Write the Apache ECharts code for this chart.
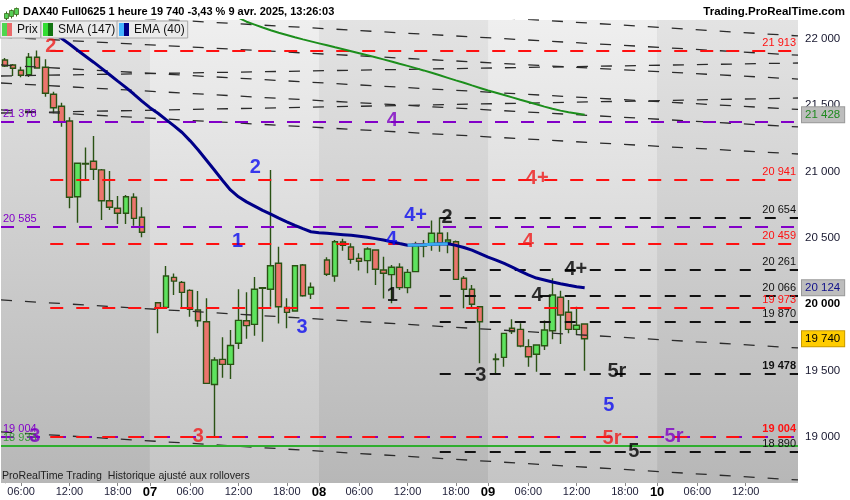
<!DOCTYPE html>
<html>
<head>
<meta charset="utf-8">
<title>DAX40 Full0625 1 heure</title>
<script src="https://cdn.jsdelivr.net/npm/echarts@6/dist/echarts.min.js"></script>
<style>
  html, body { margin: 0; padding: 0; background: #fff; }
  #main { width: 850px; height: 500px; }
</style>
</head>
<body>
<div id="main"></div>
<script>
// trading days on screen, hourly bars of each day (a blank slot marks each day change)
var days = ['04', '07', '08', '09', '10'];
var firstHour = [4, 2, 2, 2, 2];
var lastHour = [21, 21, 21, 21, 18];
var dayGap = [false, true, true, true, true];

// hourly candles [open, high, low, close]
var candles04 = [
  [21842, 21857, 21789, 21796], [21804, 21812, 21721, 21779], [21764, 21791, 21711, 21726],
  [21731, 21894, 21714, 21862], [21862, 21913, 21776, 21781], [21787, 21847, 21565, 21591],
  [21583, 21603, 21440, 21482], [21493, 21520, 21339, 21377], [21382, 21410, 20724, 20807],
  [20811, 21068, 20615, 21063], [21058, 21181, 20932, 21062], [21078, 21269, 20937, 21018],
  [21013, 21020, 20635, 20781], [20781, 21005, 20711, 20731], [20724, 20817, 20605, 20686],
  [20686, 20824, 20605, 20811], [20807, 20837, 20593, 20648], [20656, 20731, 20505, 20543]
];
var candles07 = [
  [20012, 20012, 19781, 19969], [19977, 20289, 19969, 20213], [20203, 20233, 20070, 20175],
  [20165, 20175, 19977, 20090], [20105, 20113, 19907, 19962], [19957, 20100, 19831, 19876],
  [19869, 20045, 19400, 19404], [19396, 19600, 19004, 19580], [19585, 19751, 19447, 19547],
  [19547, 19806, 19437, 19690], [19706, 20113, 19663, 19879], [19876, 20090, 19741, 19839],
  [19849, 20206, 19763, 20113], [20120, 20128, 19718, 20125], [20113, 21012, 19982, 20291],
  [20309, 20434, 19856, 19982], [19977, 20045, 19819, 19939], [19949, 20296, 19944, 20291],
  [20296, 20304, 20057, 20065], [20077, 20165, 20040, 20128]
];
var candles08 = [
  [20334, 20354, 20213, 20226], [20213, 20485, 20170, 20472], [20470, 20495, 20404, 20445],
  [20432, 20460, 20306, 20339], [20346, 20384, 20254, 20324], [20329, 20430, 20234, 20417],
  [20409, 20409, 20146, 20264], [20259, 20359, 20043, 20234], [20224, 20296, 20007, 20279],
  [20279, 20309, 20108, 20126], [20126, 20266, 20083, 20241], [20246, 20472, 20246, 20452],
  [20440, 20485, 20354, 20445], [20452, 20631, 20404, 20535], [20535, 20654, 20397, 20460],
  [20468, 20543, 20384, 20485], [20472, 20480, 20183, 20188], [20196, 20213, 19970, 20113],
  [20113, 20146, 19977, 20000], [19982, 19982, 19555, 19869]
];
var candles09 = [
  [19583, 19630, 19475, 19588], [19600, 19781, 19530, 19781], [19819, 19887, 19776, 19794],
  [19811, 19857, 19676, 19686], [19681, 19736, 19530, 19605], [19623, 19693, 19492, 19693],
  [19688, 19877, 19656, 19806], [19801, 20196, 19736, 20070], [20053, 20103, 19701, 19919],
  [19940, 20033, 19781, 19811], [19811, 19982, 19769, 19842], [19852, 19857, 19500, 19740]
];

// moving averages, one value per slot from the given slot on
var emaFrom = 5;
var ema40 = [
  22085, 22045, 22005, 21962, 21915, 21870, 21825, 21778, 21730, 21682, 21635, 21585, 21532,
  21482, 21440, 21392, 21345, 21295, 21232, 21163, 21088, 21012, 20935, 20862, 20810, 20772,
  20740, 20708, 20680, 20650, 20622, 20595, 20570, 20547, 20540, 20535, 20530, 20525, 20520,
  20513, 20505, 20495, 20485, 20472, 20458, 20445, 20447, 20449, 20452, 20455, 20456, 20444,
  20428, 20408, 20382, 20355, 20333, 20308, 20280, 20250, 20222, 20198, 20183, 20168, 20155,
  20143, 20132, 20124
];
var emaUpFrom = 50, emaUpTo = 55;
var smaFrom = 29;
var sma147 = [
  22160, 22130, 22108, 22086, 22066, 22047, 22030, 22013, 21997, 21982, 21967, 21952, 21937,
  21923, 21908, 21893, 21878, 21862, 21846, 21830, 21813, 21797, 21780, 21763, 21745, 21726,
  21707, 21688, 21670, 21650, 21631, 21612, 21595, 21578, 21560, 21542, 21525, 21508, 21490,
  21474, 21460, 21448, 21438, 21428
];

// horizontal levels
var redLevels = [21913, 20941, 20459, 19973, 19004];
var redFrom = 4;
var purpleLevels = [21378, 20585, 19004];
var blackLevels = [20654, 20261, 20066, 19870, 19478, 18890];
var blackFrom = 54;
var boldLevels = [19478, 19004];
var greenLevel = 18933;

// dashed channel lines: price at left edge, price at right edge
var channelLeft = [22215, 22392, 22015, 21721, 21804, 21442, 21465, 21668, 20033, 19038];
var channelRight = [21878, 22023, 21698, 21819, 21469, 21555, 21133, 21337, 19671, 18676];

// wave counts [slot, price, text]
var redWaves = [[5.7, 21947, '2'], [24, 19000, '3'], [66.1, 20952, '4+'], [65, 20470, '4'], [75.4, 18992, '5r']];
var blueWaves = [[31.1, 21028, '2'], [28.9, 20470, '1'], [36.9, 19829, '3'], [51, 20666, '4+'], [48, 20485, '4'], [75, 19234, '5']];
var purpleWaves = [[48.1, 21389, '4'], [3.7, 19000, '3'], [83.1, 19007, '5r']];
var blackWaves = [[54.9, 20658, '2'], [48.1, 20063, '1'], [70.9, 20259, '4+'], [66.1, 20070, '4'], [59.1, 19460, '3'], [76, 19497, '5r'], [78.1, 18887, '5']];

var yTicks = [19000, 19500, 20000, 20500, 21000, 21500, 22000];
var yMin = 18653, yMax = 22143;
var lastPrice = 19740, lastSma = 21428, lastEma = 20124;

var FONT = "'Liberation Sans', Arial, sans-serif";

function fmt(v) { return String(v).replace(/\B(?=(\d{3})+(?!\d))/g, ' '); }

// build the slots
var categories = [], candleData = [], dayStarts = [];
var dayCandles = [candles04, candles07, candles08, candles09, []];
days.forEach(function (d, k) {
  if (dayGap[k]) {
    dayStarts.push(categories.length);
    categories.push(d);
    candleData.push(['-', '-', '-', '-']);
  }
  for (var h = firstHour[k]; h <= lastHour[k]; h++) {
    categories.push(d + ' ' + (h < 10 ? '0' + h : h) + ':00');
    var c = dayCandles[k][h - firstHour[k]];
    candleData.push(c ? [c[0], c[3], c[2], c[1]] : ['-', '-', '-', '-']);
  }
});
var xMin = -0.5, xMax = categories.length - 0.5;

function labelSlot(i, v) {
  if (i === categories.length - 1) return false;
  return v.length === 2 || ['06:00', '12:00', '18:00'].indexOf(v.slice(3)) >= 0;
}

// day bands
var bandEdges = [xMin].concat(dayStarts, [xMax]);
var darkBand = { type: 'linear', x: 0, y: 0, x2: 0, y2: 1, colorStops: [{ offset: 0, color: '#e3e3e3' }, { offset: 1, color: '#b7b7b7' }] };
var lightBand = { type: 'linear', x: 0, y: 0, x2: 0, y2: 1, colorStops: [{ offset: 0, color: '#efefef' }, { offset: 1, color: '#c5c5c5' }] };
var bands = [];
for (var b = 0; b < bandEdges.length - 1; b++) {
  bands.push([{ xAxis: bandEdges[b], itemStyle: { color: b % 2 ? lightBand : darkBand } }, { xAxis: bandEdges[b + 1] }]);
}

function levelLine(v, from, color, dash, pos, offset) {
  var style = { color: color, width: 2, type: dash, dashOffset: offset || 0 };
  var label = {
    show: true, position: pos, formatter: fmt(v), color: color, distance: 2,
    fontSize: 11, fontFamily: FONT, fontWeight: boldLevels.indexOf(v) >= 0 && pos === 'insideEndTop' ? 'bold' : 'normal'
  };
  return [{ coord: [from, v], lineStyle: style, label: label }, { coord: [xMax, v], lineStyle: style, label: label }];
}

var levelLines = [];
purpleLevels.forEach(function (v) { levelLines.push(levelLine(v, xMin, '#8200c8', [13, 13], 'insideStartTop')); });
redLevels.forEach(function (v) { levelLines.push(levelLine(v, redFrom, '#ff1010', [13, 13], 'insideEndTop', 13)); });
blackLevels.forEach(function (v) { levelLines.push(levelLine(v, blackFrom, '#111111', [11, 14], 'insideEndTop')); });
(function () {
  var g = levelLine(greenLevel, xMin, '#2fae2f', 'solid', 'insideStartTop');
  g[0].label.color = g[1].label.color = '#3a9a3a';
  levelLines.push(g);
})();

function badge(v, color, bg, border) {
  return {
    yAxis: v,
    lineStyle: { color: 'rgba(0,0,0,0)', width: 0 },
    label: {
      show: true, position: 'end', distance: 4, formatter: fmt(v), color: color,
      backgroundColor: bg, borderColor: border, borderWidth: 1, padding: [2, 4, 1, 3],
      fontSize: 11.5, fontFamily: FONT
    }
  };
}

function waveSeries(list, color) {
  return {
    type: 'scatter', xAxisIndex: 1, z: 8, silent: true, symbolSize: 1,
    itemStyle: { color: 'rgba(0,0,0,0)' },
    data: list.map(function (w) { return [w[0], w[1], w[2]]; }),
    label: {
      show: true, position: 'inside', color: color, fontSize: 20, fontWeight: 'bold', fontFamily: FONT,
      formatter: function (p) { return p.value[2]; }
    },
    animation: false
  };
}

var chart = echarts.init(document.getElementById('main'));

var series = [
  {
    name: 'bands', type: 'line', xAxisIndex: 1, z: 0, silent: true, symbol: 'none',
    data: [[xMin, yMin]], lineStyle: { opacity: 0 },
    markArea: { silent: true, data: bands }
  },
  {
    name: 'Prix', type: 'candlestick', z: 2, barWidth: 6,
    data: candleData,
    itemStyle: {
      color: '#5ee35e', color0: '#ec756d',
      borderColor: '#2a5214', borderColor0: '#2a5214', borderWidth: 1.4
    }
  }
];

channelLeft.forEach(function (p, i) {
  series.push({
    type: 'line', xAxisIndex: 1, z: 3, silent: true, symbol: 'none', animation: false,
    data: [[xMin, p], [xMax, channelRight[i]]],
    lineStyle: { color: '#2b2b2b', width: 1.3, type: [11, 13] }
  });
});

series.push({
  name: 'levels', type: 'line', xAxisIndex: 1, z: 4, silent: true, symbol: 'none',
  data: [[xMin, yMin]], lineStyle: { opacity: 0 },
  markLine: {
    silent: true, symbol: ['none', 'none'], animation: false,
    data: levelLines.concat([
      badge(lastSma, '#1f8a1f', '#bdbdbd', '#9a9a9a'),
      badge(lastEma, '#10108a', '#bdbdbd', '#9a9a9a'),
      badge(lastPrice, '#000', '#ffcc00', '#c89a00')
    ])
  }
});

series.push({
  name: 'SMA (147)', type: 'line', xAxisIndex: 1, z: 5, symbol: 'none', silent: true,
  data: sma147.map(function (v, i) { return [smaFrom + i, v]; }),
  lineStyle: { color: '#1c8e1c', width: 2 }
});
series.push({
  name: 'EMA (40)', type: 'line', xAxisIndex: 1, z: 5, symbol: 'none', silent: true,
  data: ema40.map(function (v, i) { return [emaFrom + i, v]; }),
  lineStyle: { color: '#000088', width: 3 }
});
series.push({
  name: 'EMA up', type: 'line', xAxisIndex: 1, z: 6, symbol: 'none', silent: true,
  data: ema40.slice(emaUpFrom - emaFrom, emaUpTo - emaFrom + 1).map(function (v, i) { return [emaUpFrom + i, v]; }),
  lineStyle: { color: '#3aaaf0', width: 3 }
});

series.push(waveSeries(redWaves, '#f01c1c'));
series.push(waveSeries(blueWaves, '#0c0cf0'));
series.push(waveSeries(purpleWaves, '#7e00c4'));
series.push(waveSeries(blackWaves, '#000000'));

function twoTone(a, b) {
  return { type: 'linear', x: 0, y: 0, x2: 1, y2: 0, colorStops: [
    { offset: 0, color: a }, { offset: 0.5, color: a }, { offset: 0.5, color: b }, { offset: 1, color: b }] };
}
var legendBase = {
  top: 21, z: 20, orient: 'horizontal', selectedMode: false, icon: 'rect',
  itemWidth: 10, itemHeight: 13, itemGap: 0, padding: [2, 3, 2, 2],
  backgroundColor: '#ebebeb', borderColor: '#a8a8a8', borderWidth: 1,
  textStyle: { fontSize: 12, color: '#111', fontFamily: FONT }
};
function legendBox(left, name, colA, colB) {
  return echarts.util.extend({
    left: left,
    data: [{ name: name, itemStyle: { color: twoTone(colA, colB), borderWidth: 0 } }]
  }, legendBase);
}

chart.setOption({
  animation: false,
  backgroundColor: '#ffffff',
  title: [
    { text: 'DAX40 Full0625 1 heure 19 740 -3,43 % 9 avr. 2025, 13:26:03', left: 23, top: 6, padding: 0,
      textStyle: { fontSize: 11, fontWeight: 'bold', color: '#000', fontFamily: FONT } },
    { text: 'Trading.ProRealTime.com', right: 5, top: 6, padding: 0,
      textStyle: { fontSize: 11.5, fontWeight: 'bold', color: '#000', fontFamily: FONT } },
    { text: 'ProRealTime Trading  Historique ajusté aux rollovers', left: 2, top: 471, padding: 0,
      textStyle: { fontSize: 10.6, fontWeight: 'normal', color: '#222', fontFamily: FONT } }
  ],
  graphic: [{
    type: 'group', left: 4, top: 5, silent: true,
    children: [
      { type: 'line', shape: { x1: 2, y1: 4, x2: 2, y2: 13 }, style: { stroke: '#3a6a1a', lineWidth: 1 } },
      { type: 'rect', shape: { x: 0, y: 6, width: 4, height: 5 }, style: { fill: '#55d055', stroke: '#3a6a1a', lineWidth: 0.8 } },
      { type: 'line', shape: { x1: 7, y1: 2, x2: 7, y2: 11 }, style: { stroke: '#3a6a1a', lineWidth: 1 } },
      { type: 'rect', shape: { x: 5, y: 3, width: 4, height: 6 }, style: { fill: '#55d055', stroke: '#3a6a1a', lineWidth: 0.8 } },
      { type: 'line', shape: { x1: 12, y1: 0, x2: 12, y2: 9 }, style: { stroke: '#3a6a1a', lineWidth: 1 } },
      { type: 'rect', shape: { x: 10, y: 1, width: 4, height: 6 }, style: { fill: '#55d055', stroke: '#3a6a1a', lineWidth: 0.8 } }
    ]
  }],
  legend: [
    legendBox(0, 'Prix', '#4ed64e', '#ea6a6a'),
    legendBox(41, 'SMA (147)', '#33dd33', '#127512'),
    legendBox(117, 'EMA (40)', '#44b4ff', '#000088')
  ],
  grid: { left: 1, right: 52, top: 20, bottom: 17, show: true, backgroundColor: '#d4d4d4', borderWidth: 0 },
  xAxis: [
    {
      type: 'category', data: categories, boundaryGap: true,
      axisLine: { show: false },
      axisTick: { show: true, alignWithLabel: true, length: 3, lineStyle: { color: '#888' },
        interval: labelSlot },
      axisLabel: {
        interval: labelSlot,
        formatter: function (v) { return v.length === 2 ? '{d|' + v + '}' : v.slice(3); },
        margin: 3, fontSize: 11, color: '#1c1c36', fontFamily: FONT,
        rich: { d: { fontWeight: 'bold', fontSize: 13, color: '#000', fontFamily: FONT } }
      },
      splitLine: { show: false }
    },
    { type: 'value', min: xMin, max: xMax, show: false, splitLine: { show: false } }
  ],
  yAxis: {
    type: 'value', position: 'right', min: yMin, max: yMax,
    splitLine: { show: false },
    axisLine: { show: true, lineStyle: { color: '#b0b0b0' } },
    axisTick: { show: true, length: 4, lineStyle: { color: '#999' }, customValues: yTicks },
    axisLabel: {
      customValues: yTicks, margin: 7, fontSize: 11.5, color: '#16162e', fontFamily: FONT,
      formatter: function (v) { return v === 20000 ? '{b|' + fmt(v) + '}' : fmt(v); },
      rich: { b: { fontWeight: 'bold', fontSize: 11.5, color: '#000', fontFamily: FONT } }
    }
  },
  series: series
});
</script>
</body>
</html>
